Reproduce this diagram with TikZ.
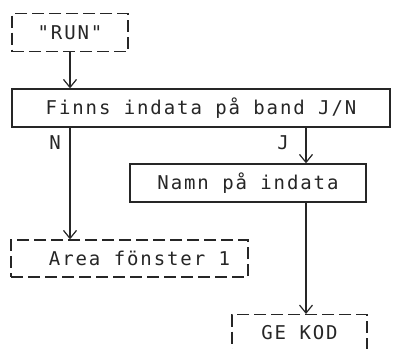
\documentclass[tikz,border=0pt]{standalone}
\usepackage{fontspec}
\setmonofont{DejaVu Sans Mono}[LetterSpace=10]
\usetikzlibrary{arrows.meta}
\begin{document}
\begin{tikzpicture}[x=1pt, y=-1pt, line width=1.3pt, draw=black!85,
  every node/.style={font=\ttfamily\fontsize{19}{21}\selectfont, text=black!85, inner sep=0pt},
  fbox/.style={draw, minimum height=38pt},
  dbox/.style={draw, dash pattern=on 12pt off 5pt, minimum height=38pt},
  flow/.style={-{Straight Barb[length=8pt,width=13pt,line width=1.2pt]}}]
\clip (0,0) rectangle (398,348);
\fill[white] (0,0) rectangle (398,348);
% boxes
\node[dbox, minimum width=116pt] (run) at (70,32.5) {"RUN"};
\node[fbox, minimum width=378pt] (finns) at (201,108) {Finns indata på band J/N};
\node[fbox, minimum width=236pt] (namn) at (248,183) {Namn på indata};
\node[dbox, minimum width=237pt, minimum height=37pt] (area) at (129.5,258.5) {\hspace*{20pt}Area fönster 1};
\node[dbox, minimum width=135pt, minimum height=36pt, anchor=north] (gekod) at (299.5,314) {GE KOD};
% answers
\node (nej) at (55,143) {N};
\node (ja) at (283,143) {J};
\coordinate (jx) at (306,0);
% connectors
\draw[flow] (run.south) -- (run.south |- finns.north);
\draw[flow] (finns.south -| run.south) -- (area.north -| run.south);
\draw[flow] (finns.south -| jx) -- (namn.north -| jx);
\draw[flow] (namn.south -| jx) -- (gekod.north -| jx);
\end{tikzpicture}
\end{document}
